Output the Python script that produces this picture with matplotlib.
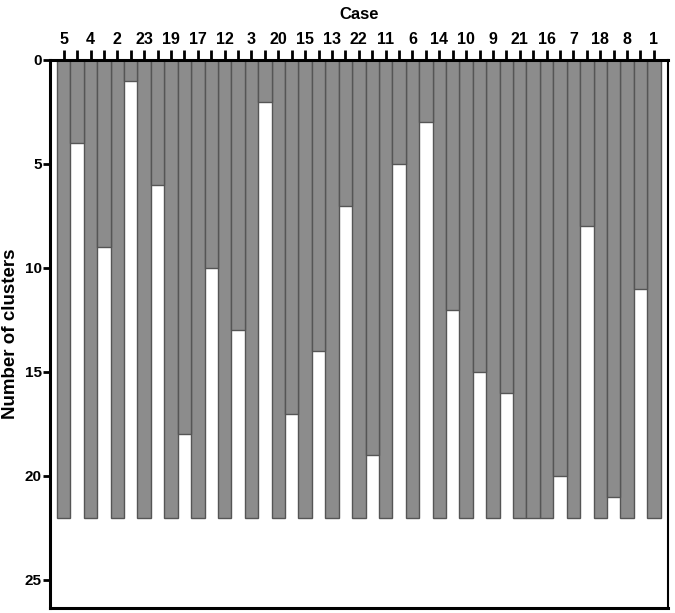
import numpy as np
import matplotlib.pyplot as plt

plt.rcParams['font.family'] = ['Liberation Sans', 'DejaVu Sans']

# case order along the top axis
cases = ["5", "4", "2", "23", "19", "17", "12", "3", "20", "15", "13", "22",
         "11", "6", "14", "10", "9", "21", "16", "7", "18", "8", "1"]
# each case column stays filled down to this many clusters
case_depth = [22] * len(cases)
# level (number of clusters) down to which neighbouring cases are joined
join_depth = [4, 9, 1, 6, 18, 10, 13, 2, 17, 14, 7, 19, 5, 3, 12, 15, 16,
              22, 20, 8, 21, 11]

fill = "#8c8c8c"
edge = "#555555"

fig = plt.figure(figsize=(6.75, 6.13), dpi=100)
ax = fig.add_axes([0.0741, 0.0082, 0.9155, 0.894])

case_x = np.arange(len(cases)) * 2
join_x = np.arange(len(join_depth)) * 2 + 1

ax.bar(case_x, case_depth, width=1.0, bottom=0, color=fill,
       edgecolor=edge, linewidth=1.0)
ax.bar(join_x, join_depth, width=1.0, bottom=0, color=fill,
       edgecolor=edge, linewidth=1.0)

ax.set_xlim(-1.02, 2 * len(cases) - 1 + 0.05)
ax.set_ylim(26.35, 0)

ax.xaxis.tick_top()
ax.set_xticks(np.arange(2 * len(cases) - 1))
labels = []
for i in range(2 * len(cases) - 1):
    labels.append(cases[i // 2] if i % 2 == 0 else "")
ax.set_xticklabels(labels, fontsize=11.5, fontweight="bold")
ax.tick_params(axis="x", direction="out", length=7, width=2, pad=2)

ax.set_yticks([0, 5, 10, 15, 20, 25])
ax.set_yticklabels(["0", "5", "10", "15", "20", "25"], fontsize=11,
                   fontweight="bold")
ax.tick_params(axis="y", direction="out", length=5, width=2, pad=1)

ax.xaxis.set_label_position("top")
ax.set_xlabel("Case", fontsize=12, fontweight="bold", labelpad=10)
ax.set_ylabel("Number of clusters", fontsize=13.5, fontweight="bold",
              labelpad=4)

for side in ["top", "left", "bottom"]:
    ax.spines[side].set_linewidth(2.2)
ax.spines["right"].set_linewidth(1.5)

fig.savefig("out.png", dpi=100)
